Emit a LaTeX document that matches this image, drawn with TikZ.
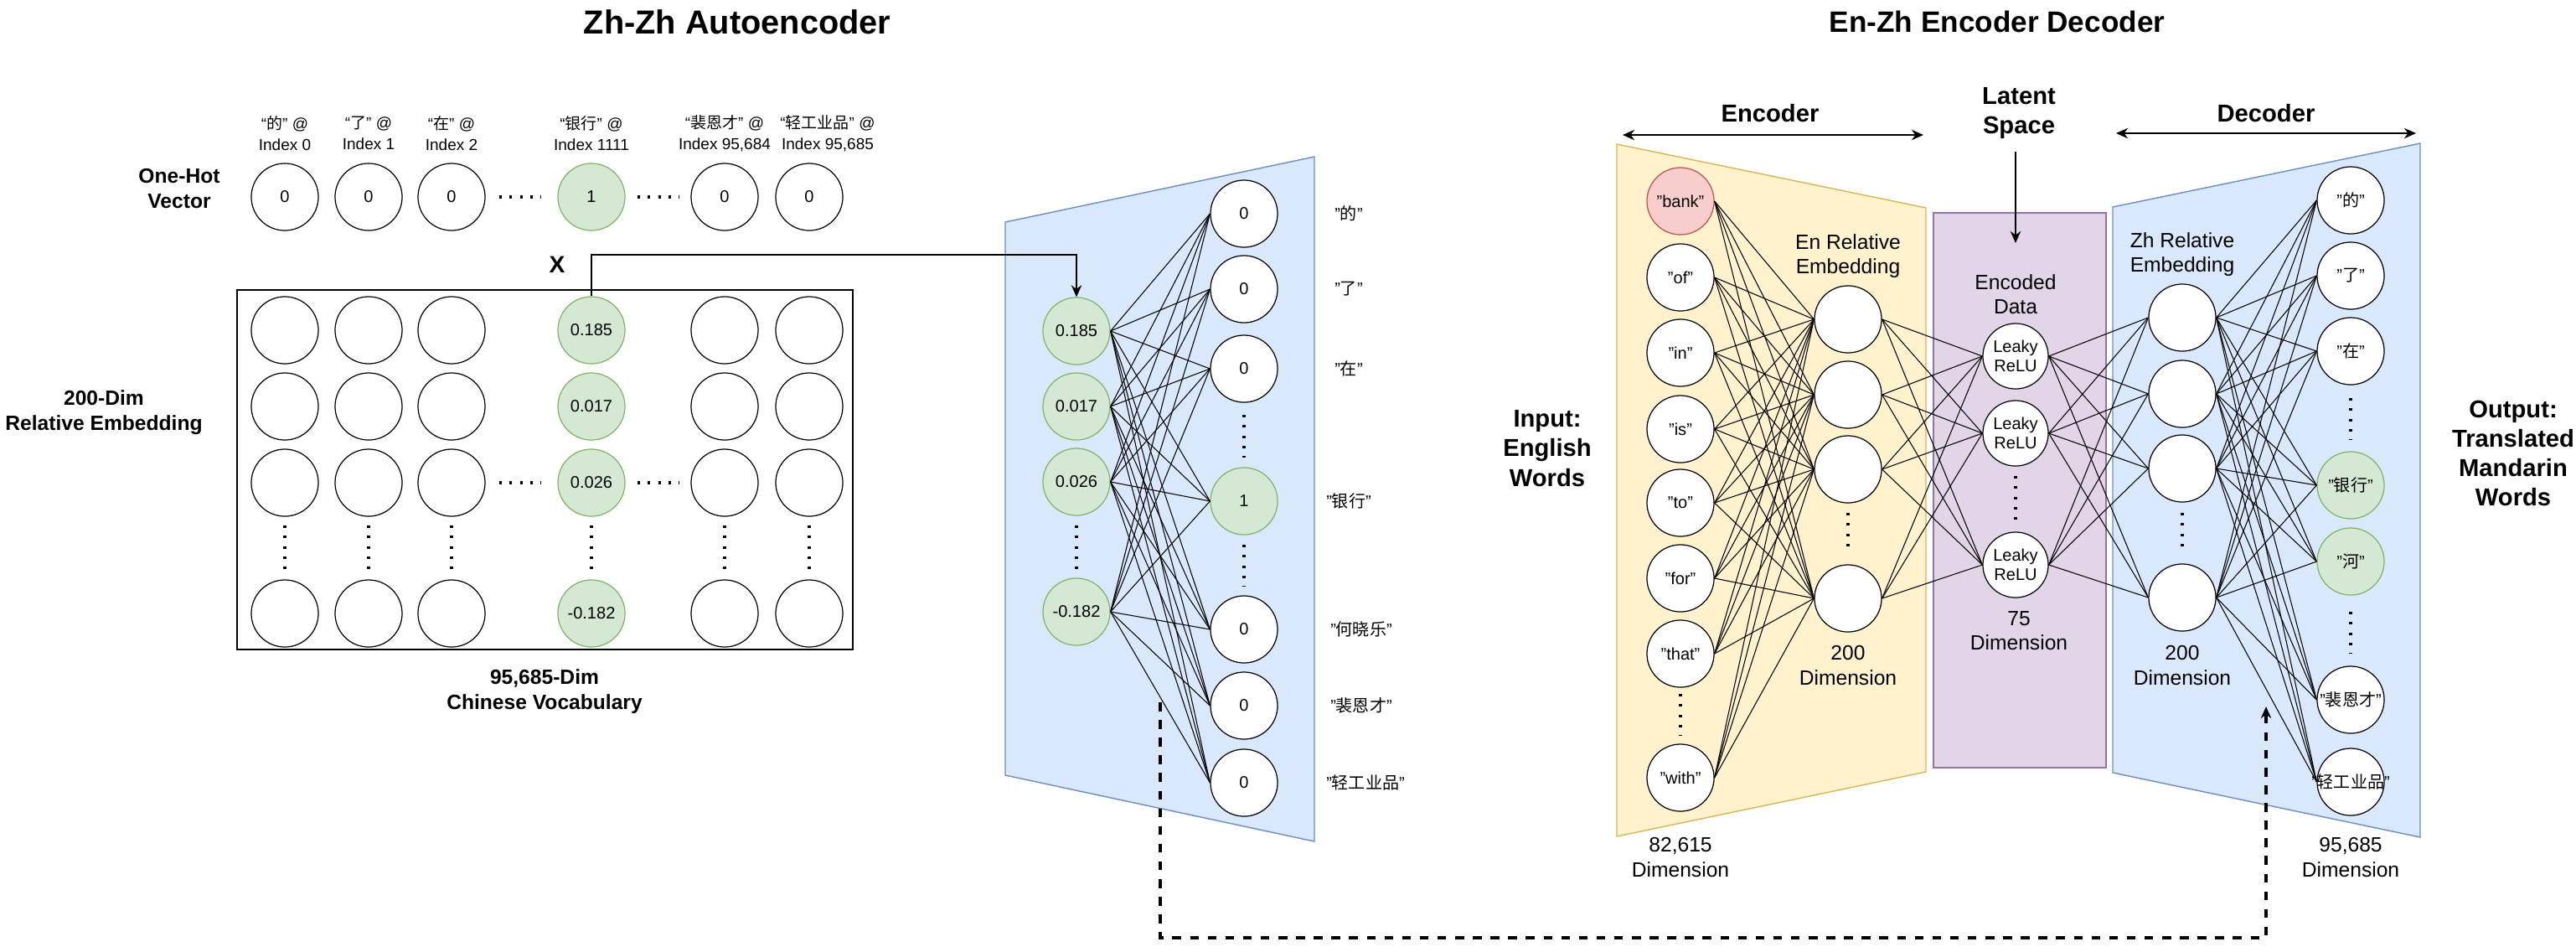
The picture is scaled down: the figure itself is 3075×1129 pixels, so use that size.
\documentclass[tikz,border=0pt]{standalone}
\usepackage{fontspec}
\setmainfont{Liberation Sans}
\newfontfamily\cjk{Noto Sans CJK SC}
\newcommand{\hz}[1]{{\cjk #1}}
\usepackage{xcolor}
\usetikzlibrary{arrows.meta, positioning}

\definecolor{greenfill}{HTML}{D5E8D4}
\definecolor{greenline}{HTML}{82B366}
\definecolor{redfill}{HTML}{F8CECC}
\definecolor{redline}{HTML}{B85450}
\definecolor{yellowfill}{HTML}{FFF2CC}
\definecolor{yellowline}{HTML}{D6B656}
\definecolor{purplefill}{HTML}{E1D5E7}
\definecolor{purpleline}{HTML}{9673A6}
\definecolor{bluefill}{HTML}{DAE8FC}
\definecolor{blueline}{HTML}{6C8EBF}

\begin{document}
\begin{tikzpicture}[
    x=0.01cm, y=-0.01cm,
    neuron/.style={circle, draw=black, line width=0.35pt, fill=white, minimum size=0.8cm, inner sep=0pt, align=center, font=\fontsize{5.7}{6.5}\selectfont},
    hot/.style={neuron, draw=greenline, fill=greenfill},
    wire/.style={line width=0.3pt},
    dots/.style={line width=0.9pt, dash pattern=on 0.9pt off 2.6pt},
    heading/.style={font=\bfseries\fontsize{11}{13}\selectfont},
    side/.style={font=\bfseries\fontsize{7}{8.7}\selectfont, align=center},
    big/.style={font=\bfseries\fontsize{8.3}{10}\selectfont, align=center},
    note/.style={font=\fontsize{7}{8.3}\selectfont, align=center},
    index/.style={font=\fontsize{5.4}{7.1}\selectfont, align=center},
    word/.style={font=\fontsize{5.7}{6.5}\selectfont},
    twoway/.style={line width=0.7pt, {Stealth[length=4pt,width=3.5pt]}-{Stealth[length=4pt,width=3.5pt]}},
    oneway/.style={line width=0.7pt, -{Stealth[length=4pt,width=3.5pt]}}
]
    \useasboundingbox (0,0) rectangle (3075,1129);

    % Titles
    \node[heading, font=\bfseries\fontsize{11.3}{13}\selectfont] (zhtitle) at (880,26) {Zh-Zh Autoencoder};
    \node[heading, font=\bfseries\fontsize{10}{12}\selectfont] (entitle) at (2384,26) {En-Zh Encoder Decoder};

    % One-hot vector
    \node[side] (ohlabel) at (214,225) {One-Hot\\Vector};
    \node[index] (idx1) at (340,159) {“\hz{的}” @\\Index 0};
    \node[index] (idx2) at (440,159) {“\hz{了}” @\\Index 1};
    \node[index] (idx3) at (539,159) {“\hz{在}” @\\Index 2};
    \node[index] (idx4) at (706,159) {“\hz{银行}” @\\Index 1111};
    \node[index] (idx5) at (865,159) {“\hz{裴恩才}” @\\Index 95,684};
    \node[index] (idx6) at (988,159) {“\hz{轻工业品}” @\\Index 95,685};
    \node[neuron] (oh1) at (340,235) {0};
    \node[neuron] (oh2) at (440,235) {0};
    \node[neuron] (oh3) at (539,235) {0};
    \node[hot] (oh4) at (706,235) {1};
    \node[neuron] (oh5) at (865,235) {0};
    \node[neuron] (oh6) at (966,235) {0};
    \draw[dots] (596,235) -- (646,235);
    \draw[dots] (761,235) -- (811,235);

    % Embedding matrix
    \draw[line width=0.4pt] (283,346) rectangle (1018,775);
    \foreach \c/\x in {1/340,2/440,3/539,5/865,6/966}
        \foreach \r/\y in {1/394,2/485,3/576,4/732}
            \node[neuron] (g\r\c) at (\x,\y) {};
    \node[hot] (v1) at (706,394) {0.185};
    \node[hot] (v2) at (706,485) {0.017};
    \node[hot] (v3) at (706,576) {0.026};
    \node[hot] (v4) at (706,732) {-0.182};
    \foreach \x in {340,440,539,706,865,966}
        \draw[dots] (\x,627) -- (\x,680);
    \draw[dots] (596,576) -- (646,576);
    \draw[dots] (761,576) -- (811,576);
    \node[side] (dimlabel) at (124,492) {200-Dim\\Relative Embedding};
    \node[side] (voclabel) at (650,825) {95,685-Dim\\Chinese Vocabulary};
    \node[font=\bfseries\fontsize{8}{9}\selectfont] (xlabel) at (665,316) {X};

    % Autoencoder layer
    \fill[bluefill, draw=blueline, line width=0.4pt] (1200,265) -- (1569,187) -- (1569,1004) -- (1200,925) -- cycle;
    \node[hot] (ml1) at (1285,395) {0.185};
    \node[hot] (ml2) at (1285,485) {0.017};
    \node[hot] (ml3) at (1285,575) {0.026};
    \node[hot] (ml4) at (1285,730) {-0.182};
    \draw[dots] (1285,627) -- (1285,680);
    \node[neuron] (mr1) at (1485,255) {0};
    \node[neuron] (mr2) at (1485,345) {0};
    \node[neuron] (mr3) at (1485,440) {0};
    \node[hot] (mr4) at (1485,598) {1};
    \node[neuron] (mr5) at (1485,751) {0};
    \node[neuron] (mr6) at (1485,842) {0};
    \node[neuron] (mr7) at (1485,934) {0};
    \draw[dots] (1485,495) -- (1485,546);
    \draw[dots] (1485,650) -- (1485,700);
    \node[word] (mw1) at (1610,255) {"\hz{的}"};
    \node[word] (mw2) at (1610,345) {"\hz{了}"};
    \node[word] (mw3) at (1610,440) {"\hz{在}"};
    \node[word] (mw4) at (1610,598) {"\hz{银行}"};
    \node[word] (mw5) at (1625,751) {"\hz{何晓乐}"};
    \node[word] (mw6) at (1625,842) {"\hz{裴恩才}"};
    \node[word] (mw7) at (1630,934) {"\hz{轻工业品}"};
    \foreach \i in {1,...,4}
        \foreach \j in {1,...,7}
            \draw[wire] (ml\i.east) -- (mr\j.west);

    % Lookup arrow
    \draw[line width=0.6pt, -{Stealth[length=4pt,width=3.5pt]}] (v1.north) -- ++(0,-49) -| (ml1.north);

    % Encoder / latent / decoder panels
    \fill[yellowfill, draw=yellowline, line width=0.4pt] (1930,172) -- (2299,248) -- (2299,921) -- (1930,998) -- cycle;
    \fill[purplefill, draw=purpleline, line width=0.4pt] (2308,254) rectangle (2514,916);
    \fill[bluefill, draw=blueline, line width=0.4pt] (2522,247) -- (2889,171) -- (2889,999) -- (2522,922) -- cycle;

    % Input words
    \node[neuron, fill=redfill, draw=redline] (in1) at (2006,240) {"bank"};
    \node[neuron] (in2) at (2006,331) {"of"};
    \node[neuron] (in3) at (2006,421) {"in"};
    \node[neuron] (in4) at (2006,512) {"is"};
    \node[neuron] (in5) at (2006,600) {"to"};
    \node[neuron] (in6) at (2006,690) {"for"};
    \node[neuron] (in7) at (2006,780) {"that"};
    \node[neuron] (in8) at (2006,928) {"with"};
    \draw[dots] (2006,828) -- (2006,878);

    % En relative embedding
    \node[neuron] (ee1) at (2206,381) {};
    \node[neuron] (ee2) at (2206,471) {};
    \node[neuron] (ee3) at (2206,560) {};
    \node[neuron] (ee4) at (2206,714) {};
    \draw[dots] (2206,612) -- (2206,660);

    % Latent space
    \node[neuron, minimum size=0.78cm] (lr1) at (2406,425) {Leaky\\ReLU};
    \node[neuron, minimum size=0.78cm] (lr2) at (2406,517) {Leaky\\ReLU};
    \node[neuron, minimum size=0.78cm] (lr3) at (2406,674) {Leaky\\ReLU};
    \draw[dots] (2406,568) -- (2406,620);

    % Zh relative embedding
    \node[neuron] (ze1) at (2605,379) {};
    \node[neuron] (ze2) at (2605,470) {};
    \node[neuron] (ze3) at (2605,559) {};
    \node[neuron] (ze4) at (2605,713) {};
    \draw[dots] (2605,612) -- (2605,660);

    % Output words
    \node[neuron] (out1) at (2806,239) {"\hz{的}"};
    \node[neuron] (out2) at (2806,329) {"\hz{了}"};
    \node[neuron] (out3) at (2806,419) {"\hz{在}"};
    \node[hot] (out4) at (2806,579) {"\hz{银行}"};
    \node[hot] (out5) at (2806,670) {"\hz{河}"};
    \node[neuron] (out6) at (2806,835) {"\hz{裴恩才}"};
    \node[neuron, label={[word]center:"\hz{轻工业品}"}] (out7) at (2806,933) {};
    \draw[dots] (2806,475) -- (2806,525);
    \draw[dots] (2806,730) -- (2806,780);

    % Fully connected layers
    \foreach \i in {1,...,8}
        \foreach \j in {1,...,4}
            \draw[wire] (in\i.east) -- (ee\j.west);
    \foreach \i in {1,...,4}
        \foreach \j in {1,...,3}
            \draw[wire] (ee\i.east) -- (lr\j.west);
    \foreach \i in {1,...,3}
        \foreach \j in {1,...,4}
            \draw[wire] (lr\i.east) -- (ze\j.west);
    \foreach \i in {1,...,4}
        \foreach \j in {1,...,7}
            \draw[wire] (ze\i.east) -- (out\j.west);

    % Layer captions
    \node[note] (enrel) at (2206,306) {En Relative\\Embedding};
    \node[note] (zhrel) at (2605,304) {Zh Relative\\Embedding};
    \node[note] (encdata) at (2406,351) {Encoded\\Data};
    \node[note] (endim) at (2206,794) {200\\Dimension};
    \node[note] (zhdim) at (2605,794) {200\\Dimension};
    \node[note] (latdim) at (2410,753) {75\\Dimension};
    \node[note] (indim) at (2006,1023) {82,615\\Dimension};
    \node[note] (outdim) at (2806,1023) {95,685\\Dimension};
    \node[big] (inlabel) at (1847,535) {Input:\\English\\Words};
    \node[big] (outlabel) at (3000,541) {Output:\\Translated\\Mandarin\\Words};

    % Encoder / decoder spans
    \coordinate (encL) at (1937,161);
    \coordinate (encR) at (2296,161);
    \coordinate (decL) at (2526,159);
    \coordinate (decR) at (2884,159);
    \draw[twoway] (encL) -- (encR);
    \draw[twoway] (decL) -- (decR);
    \node[big] (enclabel) at (2113,135) {Encoder};
    \node[big] (declabel) at (2705,135) {Decoder};
    \node[big] (latent) at (2410,135) {Latent\\Space};
    \coordinate (latTop) at (2406,181);
    \coordinate (latBot) at (2406,290);
    \draw[oneway] (latTop) -- (latBot);

    % Shared decoder
    \coordinate (fromzh) at (1385,838);
    \coordinate (tozh) at (2705,843);
    \draw[line width=1pt, dash pattern=on 3pt off 3pt, -{Stealth[length=4pt,width=3.5pt]}] (fromzh) -- ++(0,281) -| (tozh);
\end{tikzpicture}
\end{document}
